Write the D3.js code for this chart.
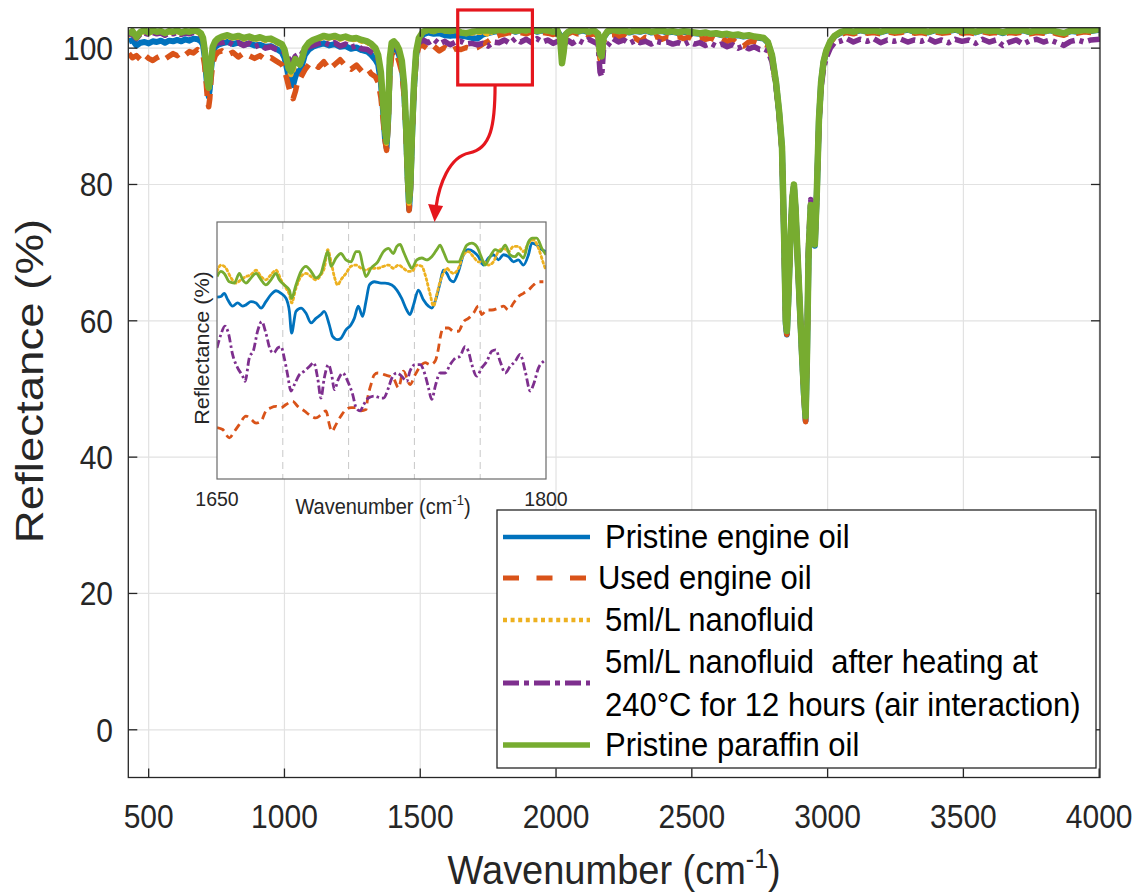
<!DOCTYPE html>
<html><head><meta charset="utf-8">
<script src="https://cdn.jsdelivr.net/npm/d3@7"></script>
<style>body{margin:0;background:#fff;} svg{display:block;font-family:"Liberation Sans",Arial,Helvetica,sans-serif;}</style>
</head><body><svg id="chart" width="1146" height="895"></svg>
<script>
// ---------------- main spectrum data ----------------
const wavenumber = [
 427,440,455,470,485,500,515,530,545,560,575,590,605,620,635,650,665,680,692,
 700,706,712,717,721,725,730,736,745,755,
 770,790,810,830,850,870,890,910,930,950,970,990,
 1000,1008,1016,1024,1032,1040,1048,1056,1064,1075,1090,
 1105,1125,1145,1165,1185,1205,1225,1245,1265,1285,1305,1320,1335,
 1345,1355,1363,1370,1376,1382,1388,1395,1403,
 1412,1422,1432,1441,1448,1454,1459,1464,1470,1477,1485,1495,
 1510,1530,1550,1570,1590,1610,1630,1650,1670,1690,1710,1730,1750,1770,1790,1810,1830,1850,1870,1890,1910,1930,1950,1970,1990,2005,2015,2022,2028,2035,2045,2060,
 2080,2100,2120,2140,2155,2162,2168,2175,2190,2210,2230,2250,2270,2290,2310,2330,2350,2370,2390,2410,2430,2450,2470,2490,2510,2530,2550,2570,2590,2610,2630,2650,2670,2690,2710,2730,2750,2765,
 2780,2795,2810,2822,2832,2840,2846,2850,2855,2862,2870,2876,2882,2890,2898,2906,2913,2919,2924,2930,2938,2946,2953,2960,2968,2976,2985,2995,3010,3025,
 3045,3070,3095,3120,3145,3170,3195,3220,3245,3270,3295,3320,3345,3370,3395,3420,3445,3470,3495,3520,3545,3570,3595,3620,3645,3670,3695,3720,3745,3770,3795,3820,3845,3870,3895,3920,3945,3970,4003
];
const pristineEngineOil = [
 101.0,101.2,100.4,100.8,100.9,100.7,101.0,100.9,101.1,100.8,101.1,101.0,101.2,101.0,101.3,101.1,101.4,101.3,101.0,
 100.5,98.8,96.0,93.8,92.9,94.0,97.0,99.2,100.2,100.5,
 100.7,100.9,100.6,100.8,100.5,100.7,100.4,100.5,100.2,100.3,99.9,99.4,
 98.6,97.2,95.8,94.9,94.6,95.8,96.6,96.4,97.4,99.0,99.8,
 100.2,100.5,100.7,100.4,100.6,100.2,100.3,99.9,100.1,99.7,99.5,99.0,98.3,
 97.6,95.0,90.8,86.8,85.4,89.5,97.5,100.0,100.3,
 99.8,99.0,97.4,93.6,87.6,80.6,76.4,79.6,87.2,94.2,99.0,101.0,
 102.0,102.3,102.1,102.2,101.9,101.8,101.9,101.8,101.7,101.5,101.4,102.0,102.2,102.4,102.5,102.5,102.7,102.4,102.6,102.5,102.7,102.4,102.6,102.5,102.3,102.5,101.9,99.8,100.8,102.0,102.3,102.6,
 102.4,102.6,102.3,102.5,102.0,99.6,99.4,101.5,102.4,102.6,102.4,102.5,102.3,102.5,102.4,102.6,102.3,102.4,102.5,102.3,102.4,102.2,102.4,102.3,102.2,102.1,102.2,102.0,102.1,101.9,102.0,101.8,101.9,101.7,101.8,101.6,101.5,101.4,
 100.8,98.9,94.9,90.3,85.3,71.6,59.5,58.0,62.7,70.8,77.8,79.8,76.2,68.7,61.6,54.6,49.0,45.4,54.6,69.8,76.8,73.8,71.0,78.3,89.3,94.9,97.9,99.5,100.9,101.7,
 102.2,102.5,102.3,102.6,102.4,102.5,102.3,102.6,102.4,102.5,102.7,102.4,102.5,102.3,102.6,102.4,102.5,102.7,102.4,102.5,102.3,102.6,102.4,102.5,102.2,102.5,102.4,102.6,102.3,102.5,102.4,102.6,102.3,102.1,102.5,102.4,102.6,102.5,102.7
];
const usedEngineOil = [
 99.2,98.6,98.9,98.3,99.0,98.5,98.2,98.6,98.9,98.4,98.8,99.2,98.9,99.4,99.0,99.5,99.3,99.8,99.4,
 99.0,97.5,94.8,92.3,91.4,92.6,95.5,97.8,98.9,99.4,
 99.6,99.0,99.4,98.7,99.3,98.9,98.5,98.9,98.3,98.6,98.1,97.6,
 96.8,95.6,94.3,93.2,92.6,93.6,95.0,95.4,96.0,96.8,97.6,
 97.8,97.2,98.0,96.9,97.6,98.3,97.4,96.9,97.5,96.6,97.0,96.2,95.8,
 95.0,92.8,89.6,86.5,85.0,89.0,96.0,99.0,99.6,
 99.2,98.0,96.5,92.8,86.8,80.0,76.2,79.2,86.8,93.6,98.5,100.3,
 100.4,99.8,100.3,99.6,100.1,99.5,99.9,99.8,100.1,99.9,100.1,100.6,101.0,101.6,101.9,102.1,102.3,102.0,102.3,102.1,102.4,102.1,102.3,102.2,102.0,102.2,101.6,99.6,100.4,101.8,102.1,102.4,
 102.1,102.3,101.9,102.1,101.7,98.4,97.9,101.0,101.9,102.0,101.6,101.8,101.2,101.5,101.0,101.6,101.4,101.7,101.3,101.6,101.5,101.7,101.4,101.6,101.2,101.5,101.3,101.5,101.1,101.4,101.0,101.3,100.6,100.3,100.9,101.0,100.7,100.6,
 100.4,98.5,94.6,90.0,85.0,71.4,59.4,58.0,62.6,70.6,77.6,79.7,76.0,68.5,61.4,54.4,48.8,45.2,54.5,69.7,76.7,73.7,70.9,78.2,89.2,94.8,97.8,99.4,100.8,101.6,
 102.0,102.3,102.1,102.4,102.2,102.3,102.1,102.4,102.2,102.3,102.5,102.2,102.3,102.1,102.4,102.2,102.3,102.5,102.2,102.3,102.1,102.4,102.2,102.3,102.0,102.3,102.2,102.4,102.1,102.3,102.2,102.4,102.1,101.9,102.3,102.2,102.4,102.3,102.2
];
const nanofluid = [
 101.9,102.3,101.5,102.2,102.4,102.2,102.4,102.3,102.3,102.1,102.4,102.2,102.4,102.2,102.3,102.3,102.5,102.3,102.0,
 101.3,99.5,96.8,94.6,93.8,94.8,97.6,99.9,100.8,101.2,
 101.5,101.7,101.4,101.6,101.3,101.5,101.2,101.4,101.1,101.2,100.8,100.4,
 99.6,98.1,96.7,96.1,96.6,97.8,97.8,97.4,98.2,99.8,100.6,
 101.0,101.3,101.6,101.4,101.6,101.3,101.5,101.2,101.3,101.0,100.8,100.4,99.8,
 98.8,96.2,91.7,87.6,86.0,90.2,98.2,100.6,100.8,
 100.4,99.6,98.0,94.2,88.2,81.2,77.2,80.2,87.8,94.6,99.3,101.3,
 102.3,102.6,102.4,102.7,102.5,102.4,102.6,102.2,102.1,102.2,102.3,102.3,102.0,102.5,102.6,102.5,102.7,102.4,102.6,102.5,102.7,102.4,102.6,102.5,102.3,102.5,101.6,98.8,100.2,101.9,102.3,102.6,
 102.4,102.6,102.3,102.5,101.9,98.8,98.4,101.4,102.4,102.6,102.4,102.5,102.3,102.5,102.4,102.6,102.3,102.4,102.5,102.3,102.4,102.2,102.4,102.3,102.2,102.1,102.2,102.0,102.1,101.9,102.0,101.8,101.9,101.7,101.8,101.6,101.5,101.4,
 100.8,98.9,94.9,90.4,85.4,71.8,59.8,58.3,62.9,70.9,77.9,79.9,76.4,68.9,61.9,54.9,49.4,45.8,54.9,69.9,76.9,73.9,71.1,78.4,89.4,94.9,97.9,99.5,100.9,101.7,
 102.2,102.5,102.3,102.6,102.4,102.5,102.3,102.6,102.4,102.5,102.7,102.4,102.5,102.3,102.6,102.4,102.5,102.7,102.4,102.5,102.3,102.6,102.4,102.5,102.2,102.5,102.4,102.6,102.3,102.5,102.4,102.6,102.3,102.1,102.5,102.4,102.6,102.5,102.7
];
const nanofluidHeated = [
 102.1,102.0,101.4,102.1,102.2,102.0,102.3,102.1,102.2,101.9,102.2,102.1,102.3,102.0,102.2,102.1,102.3,102.2,101.9,
 101.4,99.6,97.0,94.9,94.1,95.1,97.9,100.0,100.6,100.8,
 100.8,101.0,100.5,100.8,100.4,100.7,100.2,100.5,100.0,100.2,99.8,99.6,
 99.4,99.0,98.4,98.0,98.2,98.8,99.0,98.8,99.2,99.8,100.2,
 100.4,100.7,100.9,100.5,100.8,100.3,100.6,100.1,100.4,99.9,99.8,99.4,98.9,
 98.4,96.0,91.6,87.8,86.2,90.4,98.0,100.2,100.5,
 100.2,99.4,97.8,94.2,88.4,81.4,77.5,80.4,87.9,94.6,99.2,100.8,
 101.2,100.8,101.3,100.6,101.0,100.5,100.9,101.0,100.6,100.7,100.5,100.7,100.3,100.9,100.8,101.2,100.7,101.4,100.9,101.3,100.8,101.4,100.9,101.2,100.7,101.0,100.6,99.8,100.2,100.8,101.1,100.7,
 101.2,100.8,101.3,100.9,100.6,96.5,95.8,99.8,100.4,101.4,100.9,101.2,100.7,101.1,100.8,101.0,100.6,101.0,100.8,100.9,100.6,100.8,100.5,100.9,100.6,100.8,100.4,100.7,100.3,100.6,100.2,100.5,100.0,100.3,99.9,100.2,99.8,99.9,
 99.6,98.0,94.4,90.0,85.2,71.8,59.9,58.6,63.1,71.1,78.1,80.1,76.6,69.1,62.1,55.1,49.6,46.1,55.5,71.5,77.8,74.2,71.4,78.6,89.0,94.2,97.0,98.6,100.0,100.8,
 101.0,101.4,100.9,101.3,101.0,101.4,100.8,101.2,101.0,101.3,100.9,101.2,101.0,101.4,100.9,101.2,100.8,101.3,101.0,101.2,100.7,101.3,100.9,101.2,100.4,100.9,101.2,100.6,101.1,101.3,100.9,101.2,100.8,100.4,101.0,101.2,100.9,101.2,101.3
];
const pristineParaffinOil = [
 102.0,102.5,101.6,102.4,102.6,102.3,102.6,102.4,102.5,102.2,102.5,102.4,102.6,102.3,102.5,102.4,102.6,102.5,102.2,
 101.5,99.8,97.2,95.0,94.2,95.2,98.0,100.2,101.0,101.4,
 101.7,101.9,101.6,101.8,101.5,101.7,101.4,101.6,101.3,101.4,101.0,100.6,
 99.8,98.4,97.0,96.6,97.4,98.4,98.0,97.6,98.4,100.0,100.8,
 101.2,101.5,101.8,101.6,101.8,101.5,101.7,101.4,101.5,101.2,101.0,100.6,100.0,
 99.0,96.5,92.0,88.0,86.3,90.5,98.5,100.8,101.0,
 100.6,99.8,98.2,94.5,88.5,81.5,77.6,80.5,88.0,94.8,99.5,101.5,
 102.4,102.7,102.5,102.8,102.6,102.5,102.7,102.3,102.2,102.4,102.5,102.6,102.6,102.5,102.7,102.6,102.8,102.5,102.7,102.6,102.8,102.5,102.7,102.6,102.4,102.6,101.5,97.8,99.4,102.0,102.4,102.7,
 102.5,102.7,102.4,102.6,102.1,99.2,98.8,101.6,102.5,102.7,102.5,102.6,102.4,102.6,102.5,102.7,102.4,102.5,102.6,102.4,102.5,102.3,102.5,102.4,102.3,102.2,102.3,102.1,102.2,102.0,102.1,101.9,102.0,101.8,101.9,101.7,101.6,101.5,
 100.9,99.0,95.0,90.5,85.5,72.0,60.0,58.5,63.0,71.0,78.0,80.0,76.5,69.0,62.0,55.0,49.5,46.0,55.0,70.0,77.0,74.0,71.2,78.5,89.5,95.0,98.0,99.6,101.0,101.8,
 102.3,102.6,102.4,102.7,102.5,102.6,102.4,102.7,102.5,102.6,102.8,102.5,102.6,102.4,102.7,102.5,102.6,102.8,102.5,102.6,102.4,102.7,102.5,102.6,102.3,102.6,102.5,102.7,102.4,102.6,102.5,102.7,102.4,102.2,102.6,102.5,102.7,102.6,102.8
];

// ---------------- inset (1650-1800 cm-1) data : [wavenumber, reflectance] ----------------
const insetPristineEngineOil = [[1650,101.83],[1651.8,101.84],[1653.3,101.89],[1654.9,101.79],[1657.1,101.69],[1659.4,101.74],[1661.7,101.69],[1663.2,101.71],[1665.5,101.76],[1667.8,101.74],[1670.1,101.66],[1672.3,101.76],[1674.6,101.87],[1676.9,101.93],[1679.2,101.89],[1681.5,101.81],[1683.0,101.61],[1684.0,101.27],[1686.0,101.61],[1688.3,101.66],[1690.6,101.58],[1692.9,101.43],[1695.1,101.50],[1697.4,101.56],[1698.9,101.61],[1701.2,101.40],[1702.7,101.22],[1705.0,101.17],[1706.5,101.19],[1708.8,101.32],[1711.1,101.40],[1712.6,101.50],[1714.4,101.69],[1716.4,101.53],[1717.9,101.76],[1719.5,102.02],[1721.7,102.07],[1724.8,102.05],[1726.6,102.05],[1729.7,102.02],[1732.0,101.94],[1734.2,101.81],[1736.5,101.63],[1738.0,101.56],[1739.6,101.71],[1741.8,101.94],[1744.1,101.79],[1746.4,101.69],[1747.9,101.66],[1749.7,101.79],[1751.7,102.05],[1753.2,102.25],[1754.8,102.20],[1756.3,102.10],[1757.8,102.07],[1760.1,102.23],[1762.4,102.49],[1764.6,102.57],[1766.9,102.54],[1769.2,102.46],[1771.5,102.33],[1773.8,102.44],[1776.0,102.49],[1778.3,102.41],[1780.6,102.49],[1782.9,102.46],[1785.2,102.38],[1787.4,102.41],[1789.7,102.33],[1792.0,102.49],[1793.5,102.67],[1795.8,102.64],[1798.1,102.57],[1800,102.54]];
const insetUsedEngineOil = [[1650,99.80],[1652.6,99.77],[1655.6,99.64],[1657.9,99.74],[1660.2,99.85],[1663.2,99.98],[1665.5,99.93],[1667.8,99.87],[1670.1,99.90],[1672.3,100.06],[1674.6,100.11],[1676.9,100.13],[1679.2,100.11],[1681.5,100.16],[1684.5,100.21],[1686.8,100.13],[1689.8,100.06],[1692.9,99.98],[1695.1,99.95],[1697.4,100.00],[1699.7,100.06],[1701.2,99.85],[1702.3,99.74],[1704.3,99.85],[1706.5,99.98],[1708.8,100.08],[1711.1,100.11],[1713.4,100.11],[1715.7,100.06],[1717.9,100.08],[1718.7,100.26],[1720.2,100.47],[1721.7,100.62],[1723.3,100.65],[1726.6,100.62],[1730.4,100.57],[1732.7,100.42],[1735.0,100.68],[1738.0,100.47],[1740.3,100.62],[1742.6,100.75],[1744.9,100.81],[1747.2,100.78],[1749.4,100.83],[1751.0,101.04],[1751.7,101.19],[1753.2,101.35],[1755.5,101.35],[1757.8,101.30],[1760.1,101.30],[1762.4,101.45],[1764.6,101.50],[1766.9,101.58],[1769.2,101.69],[1770.7,101.56],[1773.0,101.63],[1775.3,101.63],[1778.3,101.66],[1780.6,101.69],[1782.9,101.63],[1785.2,101.74],[1787.4,101.84],[1789.7,101.89],[1792.0,101.94],[1794.3,102.02],[1796.6,102.07],[1798.8,102.07]];
const insetNanofluid = [[1650,102.23],[1651.8,102.33],[1654.1,102.28],[1656.4,102.13],[1658.7,102.05],[1660.9,102.10],[1663.2,102.15],[1665.5,102.18],[1667.8,102.25],[1670.1,102.15],[1672.3,102.10],[1674.6,102.18],[1676.9,102.25],[1679.2,102.10],[1681.5,101.97],[1683.0,101.87],[1684.0,101.74],[1686.0,101.97],[1688.3,102.15],[1690.6,102.20],[1692.9,102.15],[1695.1,102.10],[1697.4,102.18],[1698.9,102.28],[1700.5,102.57],[1702.0,102.38],[1703.5,102.15],[1705.0,102.02],[1706.5,102.10],[1708.8,102.20],[1711.1,102.31],[1713.4,102.33],[1715.7,102.28],[1717.9,102.25],[1720.2,102.28],[1723.3,102.28],[1725.9,102.31],[1728.2,102.33],[1730.4,102.28],[1732.7,102.33],[1735.0,102.28],[1737.3,102.23],[1738.8,102.23],[1741.1,102.33],[1743.4,102.31],[1744.9,102.18],[1747.2,101.87],[1748.7,101.69],[1750.2,101.87],[1751.7,102.07],[1753.2,102.20],[1754.8,102.28],[1756.3,102.23],[1757.8,102.20],[1760.1,102.28],[1762.4,102.49],[1764.6,102.54],[1766.9,102.46],[1769.2,102.38],[1771.5,102.38],[1773.8,102.33],[1776.0,102.38],[1778.3,102.54],[1780.6,102.59],[1782.9,102.54],[1785.2,102.62],[1787.4,102.62],[1789.7,102.54],[1792.0,102.67],[1794.3,102.72],[1796.6,102.59],[1798.8,102.36],[1800,102.25]];
const insetNanofluidHeated = [[1650,101.04],[1651.8,101.25],[1653.6,101.38],[1655.2,101.27],[1657.1,100.94],[1659.4,100.73],[1661.7,100.60],[1662.8,100.52],[1664.7,100.88],[1666.7,101.01],[1668.5,101.30],[1670.4,101.45],[1672.3,101.27],[1674.3,101.01],[1675.8,100.96],[1677.7,101.04],[1679.2,101.06],[1680.7,100.88],[1682.2,100.62],[1683.7,100.37],[1685.3,100.47],[1687.5,100.62],[1689.8,100.68],[1692.1,100.75],[1694.1,100.81],[1695.9,100.57],[1697.4,100.26],[1698.9,100.57],[1700.8,100.78],[1702.3,100.62],[1703.5,100.39],[1705.3,100.55],[1707.3,100.65],[1709.6,100.52],[1711.9,100.31],[1713.4,100.11],[1715.2,100.06],[1716.9,100.16],[1719.0,100.26],[1721.7,100.29],[1724.8,100.26],[1725.9,100.26],[1728.2,100.42],[1729.7,100.57],[1732.0,100.65],[1734.2,100.60],[1736.5,100.52],[1738.0,100.68],[1740.3,100.78],[1742.6,100.78],[1744.9,100.62],[1746.4,100.42],[1747.9,100.24],[1749.7,100.47],[1751.7,100.65],[1754.0,100.65],[1756.3,100.78],[1758.6,100.88],[1760.8,100.91],[1763.1,101.06],[1764.6,100.99],[1766.2,100.78],[1768.4,100.60],[1770.7,100.73],[1773.0,100.83],[1775.3,100.99],[1777.1,101.01],[1779.1,100.83],[1781.4,100.65],[1783.6,100.75],[1785.9,100.83],[1788.2,100.94],[1790.5,100.68],[1792.8,100.37],[1794.3,100.47],[1796.6,100.73],[1798.8,100.83],[1800,100.86]];
const insetPristineParaffinOil = [[1650,102.15],[1651.8,102.23],[1653.3,102.20],[1655.6,102.07],[1657.9,102.05],[1660.2,102.20],[1661.7,102.10],[1663.2,102.05],[1665.5,102.13],[1667.8,102.20],[1670.1,102.10],[1672.3,102.02],[1674.6,102.10],[1676.9,102.20],[1678.4,102.10],[1680.7,102.02],[1683.0,101.94],[1684.0,101.81],[1686.0,102.02],[1688.3,102.23],[1690.6,102.31],[1692.9,102.23],[1695.1,102.13],[1697.4,102.20],[1698.9,102.38],[1700.5,102.54],[1702.0,102.31],[1704.3,102.44],[1706.5,102.51],[1708.8,102.41],[1711.1,102.38],[1713.4,102.54],[1714.9,102.54],[1716.4,102.33],[1717.9,102.15],[1720.2,102.28],[1723.3,102.38],[1725.9,102.54],[1728.2,102.59],[1730.4,102.51],[1732.0,102.62],[1733.5,102.65],[1735.0,102.54],[1737.3,102.36],[1738.8,102.28],[1741.1,102.41],[1743.4,102.44],[1745.6,102.41],[1747.9,102.46],[1750.2,102.57],[1751.7,102.64],[1753.2,102.54],[1755.5,102.38],[1757.8,102.38],[1760.1,102.38],[1762.4,102.54],[1763.9,102.64],[1766.2,102.67],[1768.4,102.62],[1770.7,102.44],[1772.2,102.33],[1774.5,102.46],[1776.8,102.57],[1779.1,102.54],[1781.4,102.64],[1783.6,102.49],[1785.9,102.46],[1787.4,102.51],[1789.7,102.44],[1792.0,102.69],[1793.8,102.75],[1795.8,102.75],[1798.1,102.59],[1800,102.49]];

const xTicks = [500,1000,1500,2000,2500,3000,3500,4000];
const yTicks = [0,20,40,60,80,100];
const insetGridTicks = [1680,1710,1740,1770];
const insetTickLabels = [1650,1800];
const legendLabels = ["Pristine engine oil","Used engine oil","5ml/L nanofluid",["5ml/L nanofluid  after heating at","240\u00B0C for 12 hours (air interaction)"],"Pristine paraffin oil"];
const zoomBox = [1638, 1913, 94.6, 105.6]; // red highlight (wavenumber / reflectance extent)

// ---------------- styles ----------------
const colors = ["#0072BD","#D95319","#EDB120","#7E2F8E","#77AC30"];
const mainStyle = [
  {w:6,   dash:null},
  {w:5.5, dash:"15,9"},
  {w:5,   dash:"2,5"},
  {w:5.5, dash:"15,5,4,5"},
  {w:6.5, dash:null}
];
const insetStyle = [
  {w:2.8, dash:null},
  {w:2.8, dash:"8,5"},
  {w:2.8, dash:"2,3"},
  {w:2.8, dash:"8,3,2.5,3"},
  {w:2.8, dash:null}
];
const legendStyle = [
  {w:4.5, dash:null},
  {w:5,   dash:"16,17.5"},
  {w:4.5, dash:"4,3.6"},
  {w:5,   dash:"16,5,5,5"},
  {w:5.5, dash:null}
];
const mainSeries = [pristineEngineOil, usedEngineOil, nanofluid, nanofluidHeated, pristineParaffinOil];
const insetSeries = [insetPristineEngineOil, insetUsedEngineOil, insetNanofluid, insetNanofluidHeated, insetPristineParaffinOil];

const svg = d3.select("#chart");
const L = 128.3, R = 1100, T = 27.7, B = 777.5;
const x = d3.scaleLinear().domain([425, 4003]).range([L, R]);
const y = d3.scaleLinear().domain([-7, 103]).range([B, T]);
const TXT = "#262626";
const SY = 1.12; // vertical stretch of the reference lettering

function stretchedText(parent, px, py, size, anchor, sy){
  return parent.append("text")
    .attr("transform",`translate(${px},${py}) scale(1,${sy})`)
    .attr("text-anchor",anchor).attr("font-size",size).attr("fill",TXT);
}

const defs = svg.append("defs");
defs.append("clipPath").attr("id","mainClip").append("rect")
  .attr("x",L).attr("y",T).attr("width",R-L).attr("height",B-T);

// grid
const grid = svg.append("g");
grid.selectAll("line.vx").data(xTicks).join("line")
  .attr("x1",d=>x(d)).attr("x2",d=>x(d)).attr("y1",T).attr("y2",B)
  .attr("stroke","#e2e2e2").attr("stroke-width",1.2);
grid.selectAll("line.hy").data(yTicks).join("line")
  .attr("x1",L).attr("x2",R).attr("y1",d=>y(d)).attr("y2",d=>y(d))
  .attr("stroke","#e2e2e2").attr("stroke-width",1.2);

// data lines
const lineGen = d3.line().x(d=>x(d[0])).y(d=>y(d[1]));
const plot = svg.append("g").attr("clip-path","url(#mainClip)");
mainSeries.forEach((vals,i)=>{
  const pts = wavenumber.map((w,k)=>[w, vals[k]]);
  plot.append("path").datum(pts)
    .attr("d",lineGen).attr("fill","none")
    .attr("stroke",colors[i]).attr("stroke-width",mainStyle[i].w)
    .attr("stroke-linejoin","round")
    .attr("stroke-linecap", i===2 ? "round" : "butt")
    .attr("stroke-dasharray",mainStyle[i].dash);
});

// axes box and ticks
const ax = svg.append("g").attr("stroke",TXT).attr("stroke-width",1.3);
ax.append("rect").attr("x",L).attr("y",T).attr("width",R-L).attr("height",B-T).attr("fill","none");
const tl = 9;
xTicks.forEach(t=>{
  ax.append("line").attr("x1",x(t)).attr("x2",x(t)).attr("y1",B).attr("y2",B-tl);
  ax.append("line").attr("x1",x(t)).attr("x2",x(t)).attr("y1",T).attr("y2",T+tl);
});
yTicks.forEach(t=>{
  ax.append("line").attr("x1",L).attr("x2",L+tl).attr("y1",y(t)).attr("y2",y(t));
  ax.append("line").attr("x1",R).attr("x2",R-tl).attr("y1",y(t)).attr("y2",y(t));
});

// tick labels
xTicks.forEach(t=>{
  stretchedText(svg, x(t), 828, 30, "middle", SY).text(t);
});
yTicks.forEach(t=>{
  stretchedText(svg, 113, y(t)+12, 30, "end", SY).text(t);
});

// axis titles
const xt = stretchedText(svg, (L+R)/2, 884, 38, "middle", 1.08);
xt.append("tspan").text("Wavenumber (cm");
xt.append("tspan").attr("dy",-15).attr("font-size",25).text("-1");
xt.append("tspan").attr("dy",15).text(")");
svg.append("text").attr("transform","translate(43,381) rotate(-90) scale(1.2,1)")
  .attr("text-anchor","middle").attr("font-size",38).attr("fill",TXT)
  .text("Reflectance (%)");

// ---------------- inset ----------------
const iL = 217, iR = 546, iT = 222, iB = 479;
const ix = d3.scaleLinear().domain([1650,1800]).range([iL,iR]);
const iy = d3.scaleLinear().domain([99,103]).range([iB,iT]);
defs.append("clipPath").attr("id","insetClip").append("rect")
  .attr("x",iL).attr("y",iT).attr("width",iR-iL).attr("height",iB-iT);
const inset = svg.append("g");
inset.append("rect").attr("x",iL).attr("y",iT).attr("width",iR-iL).attr("height",iB-iT).attr("fill","#fff");
inset.selectAll("line.g").data(insetGridTicks).join("line")
  .attr("x1",d=>ix(d)).attr("x2",d=>ix(d)).attr("y1",iT).attr("y2",iB)
  .attr("stroke","#c8c8c8").attr("stroke-width",1).attr("stroke-dasharray","7,5");
const iline = d3.line().x(d=>ix(d[0])).y(d=>iy(d[1])).curve(d3.curveMonotoneX);
const ip = inset.append("g").attr("clip-path","url(#insetClip)");
insetSeries.forEach((s,i)=>{
  ip.append("path").datum(s).attr("d",iline).attr("fill","none")
    .attr("stroke",colors[i]).attr("stroke-width",insetStyle[i].w)
    .attr("stroke-linejoin","round")
    .attr("stroke-linecap", i===2 ? "round":"butt")
    .attr("stroke-dasharray",insetStyle[i].dash);
});
inset.append("rect").attr("x",iL).attr("y",iT).attr("width",iR-iL).attr("height",iB-iT)
  .attr("fill","none").attr("stroke","#6a6a6a").attr("stroke-width",1.2);
insetTickLabels.forEach(t=>{
  stretchedText(inset, ix(t), 506, 19.5, "middle", 1.08).text(t);
});
const ixt = stretchedText(inset, 383, 514, 20, "middle", 1.08);
ixt.append("tspan").text("Wavenumber (cm");
ixt.append("tspan").attr("dy",-8).attr("font-size",13).text("-1");
ixt.append("tspan").attr("dy",8).text(")");
inset.append("text").attr("transform","translate(209,348) rotate(-90) scale(1.08,1)")
  .attr("text-anchor","middle").attr("font-size",20).attr("fill",TXT)
  .text("Reflectance (%)");

// ---------------- red annotation ----------------
const red = "#e5161d";
svg.append("rect").attr("x",x(zoomBox[0])).attr("y",y(zoomBox[3]))
  .attr("width",x(zoomBox[1])-x(zoomBox[0])).attr("height",y(zoomBox[2])-y(zoomBox[3]))
  .attr("fill","none").attr("stroke",red).attr("stroke-width",3.2);
const sx = (x(zoomBox[0])+x(zoomBox[1]))/2, sy = y(zoomBox[2]);
svg.append("path")
  .attr("d",`M${sx},${sy} C${sx},${sy+40} ${sx-4},${sy+64} ${sx-26},${sy+68} C${sx-46},${sy+72} ${sx-56},${sy+100} ${sx-59},${sy+122}`)
  .attr("fill","none").attr("stroke",red).attr("stroke-width",3.2);
svg.append("path")
  .attr("d",`M${sx-60.5},${sy+137} L${sx-67},${sy+119} L${sx-52},${sy+121} Z`)
  .attr("fill",red);

// ---------------- legend ----------------
const lg = svg.append("g");
lg.append("rect").attr("x",497).attr("y",510).attr("width",599).attr("height",258)
  .attr("fill","#fff").attr("stroke",TXT).attr("stroke-width",1.3);
const rowY = [537,578,620,683,745];
legendLabels.forEach((lab,i)=>{
  lg.append("line").attr("x1",503).attr("x2",590).attr("y1",rowY[i]).attr("y2",rowY[i])
    .attr("stroke",colors[i]).attr("stroke-width",legendStyle[i].w)
    .attr("stroke-dasharray",legendStyle[i].dash);
  const tx = i===1 ? 598 : 605;
  if (Array.isArray(lab)) {
    lab.forEach((s,j)=>{
      stretchedText(lg, tx, rowY[i]-21+j*43+11, 31, "start", 1.05)
        .attr("fill","#000").style("white-space","pre").text(s);
    });
  } else {
    stretchedText(lg, tx, rowY[i]+11, 31, "start", 1.05).attr("fill","#000").text(lab);
  }
});
</script></body></html>
